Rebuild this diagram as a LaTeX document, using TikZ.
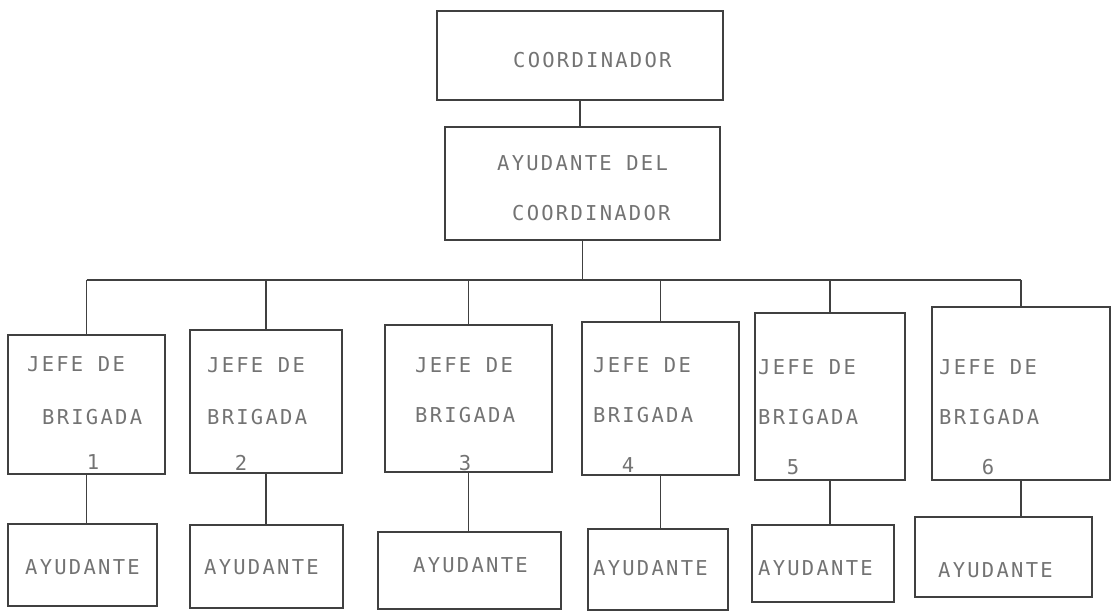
\documentclass[tikz,border=0pt]{standalone}
\usepackage{fontspec}
\setmonofont{DejaVu Sans Mono}
\tikzset{
  box/.style={draw=black!75, line width=1.3, rectangle, inner sep=0, fill=none},
  txt/.style={anchor=west, inner sep=0, text=black!55,
    font=\fontsize{20.5}{24}\selectfont\ttfamily\addfontfeatures{LetterSpace=11}},
  num/.style={txt, anchor=center},
  link/.style={draw=black!75, line width=1.3}
}
\begin{document}
\begin{tikzpicture}[x=1pt,y=-1pt]
      \useasboundingbox (0,0) rectangle (1117,612);
      \draw
        (580,55.5) node[box, minimum width=286, minimum height=89] (coord){}
        (582.5,183.5) node[box, minimum width=275, minimum height=113] (aux){}
        (86.5,404.5) node[box, minimum width=157, minimum height=139] (jefe1){}
        (266,401.5) node[box, minimum width=152, minimum height=143] (jefe2){}
        (468.5,398.5) node[box, minimum width=167, minimum height=147] (jefe3){}
        (660.5,398.5) node[box, minimum width=157, minimum height=153] (jefe4){}
        (830,396.5) node[box, minimum width=150, minimum height=167] (jefe5){}
        (1021,393.5) node[box, minimum width=178, minimum height=173] (jefe6){}
        (82.5,565) node[box, minimum width=149, minimum height=82] (ayu1){}
        (266.5,566.5) node[box, minimum width=153, minimum height=83] (ayu2){}
        (469.5,570.5) node[box, minimum width=183, minimum height=77] (ayu3){}
        (658,569.5) node[box, minimum width=140, minimum height=81] (ayu4){}
        (823,563.5) node[box, minimum width=142, minimum height=77] (ayu5){}
        (1003.5,557) node[box, minimum width=177, minimum height=80] (ayu6){};
      % texts
      \draw
        (513,60) node[txt] (coordT){COORDINADOR}
        (497,163) node[txt] (auxT1){AYUDANTE DEL}
        (512,213) node[txt] (auxT2){COORDINADOR}
        (27,364) node[txt] (jefe1T1){JEFE DE}
        (42,417) node[txt] (jefe1T2){BRIGADA}
        (93,462) node[num] (jefe1T3){1}
        (207,365) node[txt] (jefe2T1){JEFE DE}
        (207,417) node[txt] (jefe2T2){BRIGADA}
        (241,463) node[num] (jefe2T3){2}
        (415,365) node[txt] (jefe3T1){JEFE DE}
        (415,415) node[txt] (jefe3T2){BRIGADA}
        (465,463) node[num] (jefe3T3){3}
        (593,365) node[txt] (jefe4T1){JEFE DE}
        (593,415) node[txt] (jefe4T2){BRIGADA}
        (628,465) node[num] (jefe4T3){4}
        (758,367) node[txt] (jefe5T1){JEFE DE}
        (758,417) node[txt] (jefe5T2){BRIGADA}
        (793,467) node[num] (jefe5T3){5}
        (939,367) node[txt] (jefe6T1){JEFE DE}
        (939,417) node[txt] (jefe6T2){BRIGADA}
        (988,467) node[num] (jefe6T3){6}
        (25,567) node[txt] (ayu1T){AYUDANTE}
        (204,567) node[txt] (ayu2T){AYUDANTE}
        (413,565) node[txt] (ayu3T){AYUDANTE}
        (593,568) node[txt] (ayu4T){AYUDANTE}
        (758,568) node[txt] (ayu5T){AYUDANTE}
        (938,570) node[txt] (ayu6T){AYUDANTE};
      \coordinate (bus) at (0,280);
      \begin{scope}[link]
        \draw (coord.south) to (coord.south |- aux.north);
        \draw (aux.south) to (aux.south |- bus);
        \draw (jefe1.north |- bus) to (jefe6.north |- bus);
        \draw (jefe1.north |- bus) to (jefe1.north);
        \draw (jefe2.north |- bus) to (jefe2.north);
        \draw (jefe3.north |- bus) to (jefe3.north);
        \draw (jefe4.north |- bus) to (jefe4.north);
        \draw (jefe5.north |- bus) to (jefe5.north);
        \draw (jefe6.north |- bus) to (jefe6.north);
        \draw (jefe1.south) to (jefe1.south |- ayu1.north);
        \draw (jefe2.south) to (jefe2.south |- ayu2.north);
        \draw (jefe3.south) to (jefe3.south |- ayu3.north);
        \draw (jefe4.south) to (jefe4.south |- ayu4.north);
        \draw (jefe5.south) to (jefe5.south |- ayu5.north);
        \draw (jefe6.south) to (jefe6.south |- ayu6.north);
      \end{scope}
    \end{tikzpicture}
\end{document}
